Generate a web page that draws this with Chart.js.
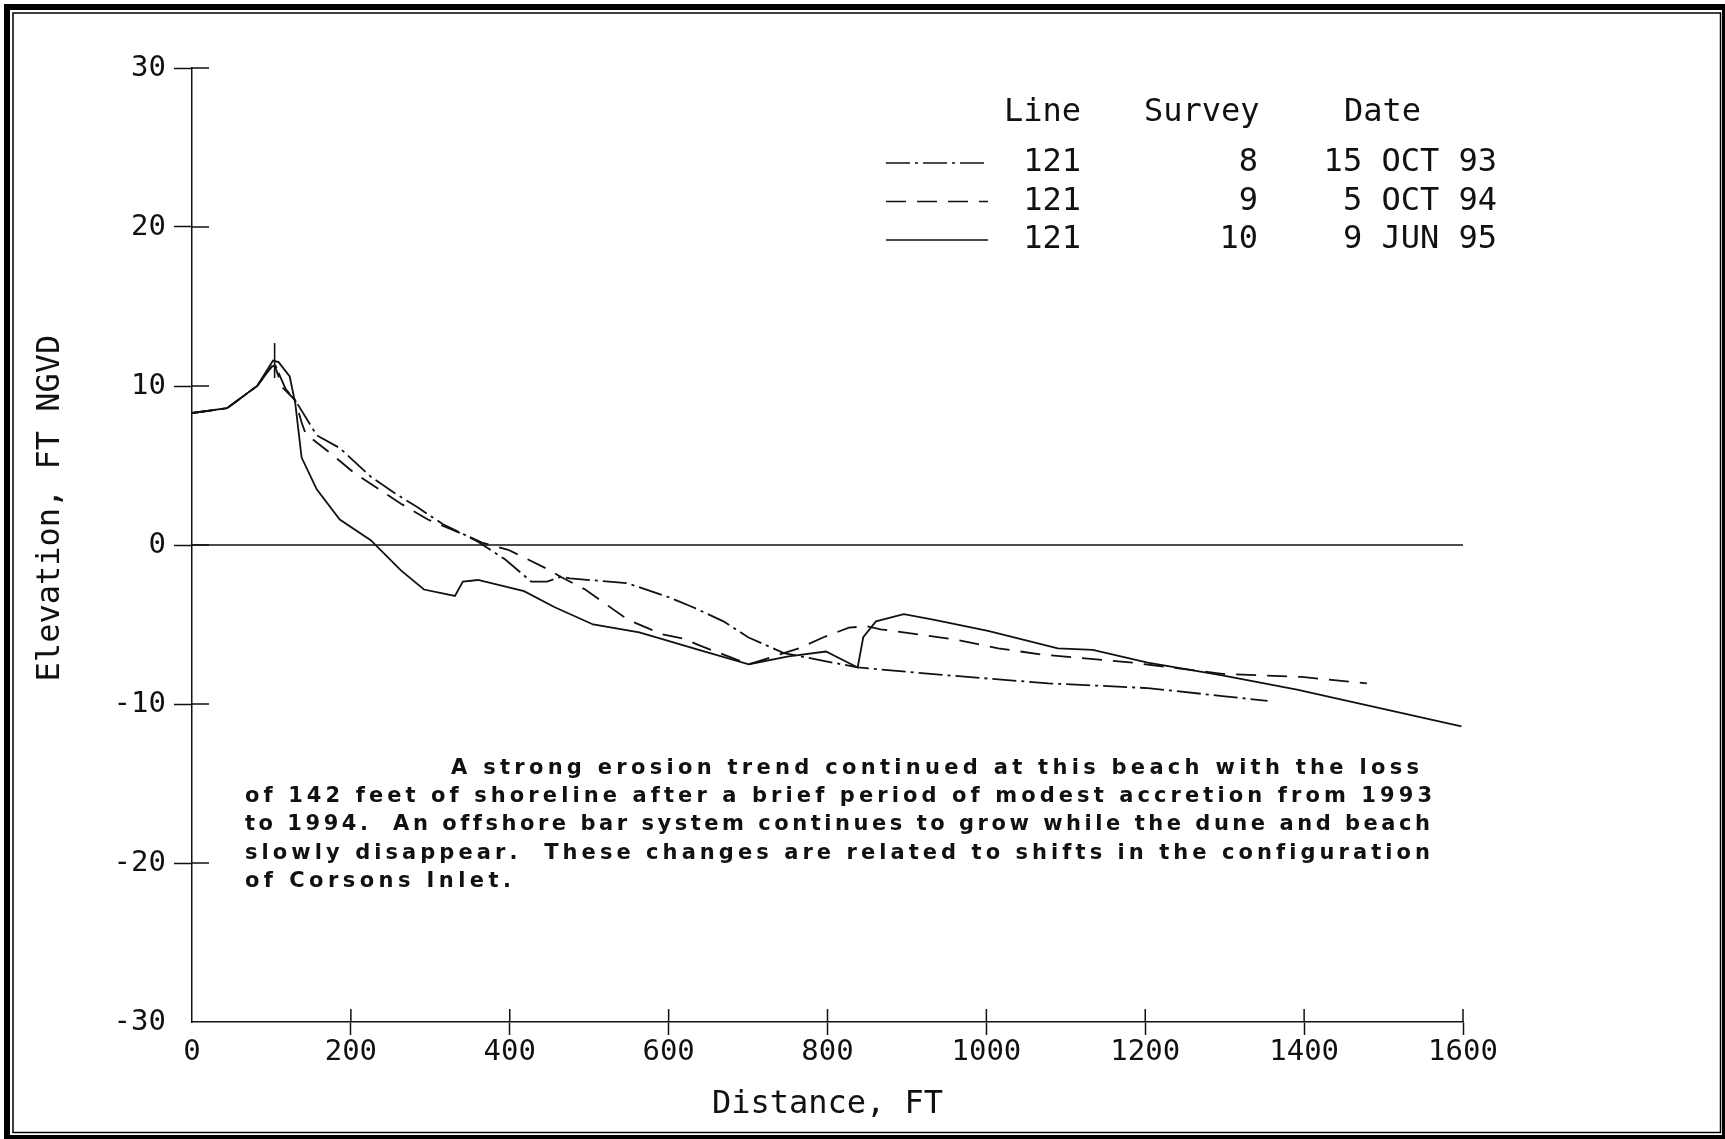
<!DOCTYPE html>
<html>
<head>
<meta charset="utf-8">
<script src="https://cdn.jsdelivr.net/npm/chart.js@4.4.0/dist/chart.umd.min.js"></script>
<style>
html, body { margin: 0; padding: 0; background: #ffffff; }
#wrap { width: 1725px; height: 1139px; position: relative; }
canvas { display: block; }
</style>
</head>
<body>
<div id="wrap"><canvas id="c" width="1725" height="1139"></canvas></div>
<script>
// ---- Data (distance in FT, elevation in FT NGVD) ----
const dist93 = [0, 44, 82, 100, 104, 118, 130, 157, 186, 225, 254, 283, 316, 345, 360, 394, 427, 447, 464, 476, 548, 601, 630, 669, 700, 745, 838, 952, 1078, 1203, 1297, 1354];
const elev93 = [8.3, 8.6, 10.0, 11.2, 11.4, 9.8, 9.1, 6.9, 6.1, 4.3, 3.3, 2.4, 1.3, 0.6, 0.2, -0.9, -2.3, -2.3, -2.0, -2.1, -2.4, -3.3, -3.9, -4.8, -5.8, -6.8, -7.7, -8.2, -8.7, -9.0, -9.5, -9.8];

const dist94 = [0, 44, 82, 100, 104, 114, 130, 138, 143, 176, 205, 263, 297, 350, 365, 398, 447, 464, 495, 543, 558, 591, 620, 638, 701, 764, 795, 827, 849, 867, 961, 1015, 1071, 1184, 1297, 1397, 1479];
const elev94 = [8.3, 8.6, 10.0, 11.2, 11.3, 9.9, 9.1, 7.7, 7.0, 5.7, 4.5, 2.6, 1.6, 0.5, 0.15, -0.3, -1.5, -2.0, -2.8, -4.5, -4.9, -5.6, -5.9, -6.3, -7.5, -6.5, -5.8, -5.2, -5.1, -5.3, -5.95, -6.5, -6.9, -7.4, -8.1, -8.3, -8.7];

const dist95 = [0, 44, 82, 102, 109, 123, 130, 138, 157, 186, 225, 263, 292, 331, 341, 360, 418, 456, 505, 563, 591, 638, 701, 751, 798, 838, 845, 861, 896, 933, 1002, 1090, 1134, 1203, 1297, 1391, 1598];
const elev95 = [8.3, 8.6, 10.0, 11.6, 11.5, 10.6, 8.9, 5.5, 3.5, 1.6, 0.3, -1.6, -2.8, -3.2, -2.3, -2.2, -2.9, -3.9, -5.0, -5.5, -5.9, -6.6, -7.5, -7.0, -6.7, -7.7, -5.8, -4.8, -4.35, -4.7, -5.4, -6.5, -6.6, -7.4, -8.2, -9.1, -11.4];

const crestMarkX = [104, 104];
const crestMarkY = [10.5, 12.7];

const zeroLineX = [0, 1600];
const zeroLineY = [0, 0];

const xTicks = [0, 200, 400, 600, 800, 1000, 1200, 1400, 1600];
const yTicks = [-30, -20, -10, 0, 10, 20, 30];

const legendHeader = ['Line', 'Survey', 'Date'];
const legendLines = ['121', '121', '121'];
const legendSurveys = ['8', '9', '10'];
const legendDates = ['15 OCT 93', '5 OCT 94', '9 JUN 95'];

const noteLines = [
  'A strong erosion trend continued at this beach with the loss',
  'of 142 feet of shoreline after a brief period of modest accretion from 1993',
  'to 1994.  An offshore bar system continues to grow while the dune and beach',
  'slowly disappear.  These changes are related to shifts in the configuration',
  'of Corsons Inlet.'
];

// ---- helpers ----
const toPts = (xs, ys) => xs.map((x, i) => ({ x: x, y: ys[i] }));
const INK = '#111111';
const MONO = 'DejaVu Sans Mono';
const DASH93 = [24, 5, 3, 5];
const DASH94 = [20, 11];

function drawSpaced(ctx, text, left, right, y) {
  const chars = Array.from(text);
  let natural = 0;
  const widths = chars.map(c => { const w = ctx.measureText(c).width; natural += w; return w; });
  const extra = chars.length > 1 ? ((right - left) - natural) / (chars.length - 1) : 0;
  let x = left;
  ctx.textAlign = 'left';
  chars.forEach((c, i) => { ctx.fillText(c, x, y); x += widths[i] + extra; });
}

const decor = {
  id: 'decor',
  afterDraw(chart) {
    const ctx = chart.ctx;
    const xs = chart.scales.x, ys = chart.scales.y;
    const area = chart.chartArea;
    ctx.save();

    // inner halves of the tick marks
    ctx.strokeStyle = INK; ctx.lineWidth = 1.5; ctx.setLineDash([]);
    ctx.beginPath();
    yTicks.forEach(v => {
      if (v === -30) return;
      const py = ys.getPixelForValue(v);
      ctx.moveTo(area.left, py); ctx.lineTo(area.left + 17, py);
    });
    xTicks.forEach(v => {
      if (v === 0) return;
      const px = xs.getPixelForValue(v);
      ctx.moveTo(px, area.bottom); ctx.lineTo(px, area.bottom - 13);
    });
    ctx.stroke();

    // y axis title
    ctx.fillStyle = INK;
    ctx.font = '32px "' + MONO + '"';
    ctx.save();
    ctx.translate(51, 508);
    ctx.rotate(-Math.PI / 2);
    ctx.textAlign = 'center'; ctx.textBaseline = 'middle';
    ctx.fillText('Elevation, FT NGVD', 0, 0);
    ctx.restore();

    // legend table
    ctx.font = '32px "' + MONO + '"';
    ctx.textBaseline = 'middle';
    ctx.textAlign = 'left';
    ctx.fillText(legendHeader[0], 1004, 113);
    ctx.fillText(legendHeader[1], 1144, 113);
    ctx.fillText(legendHeader[2], 1344, 113);
    const rowY = [163, 201.5, 240];
    const dashes = [DASH93, DASH94, []];
    rowY.forEach((ry, i) => {
      ctx.textAlign = 'right';
      ctx.fillText(legendLines[i], 1081, ry);
      ctx.fillText(legendSurveys[i], 1258, ry);
      ctx.fillText(legendDates[i], 1497, ry);
      ctx.beginPath();
      ctx.setLineDash(dashes[i]);
      ctx.lineWidth = 1.6;
      ctx.moveTo(886, ry); ctx.lineTo(988, ry);
      ctx.stroke();
    });
    ctx.setLineDash([]);

    // annotation paragraph
    ctx.font = 'bold 21px "DejaVu Sans"';
    ctx.textBaseline = 'alphabetic';
    const noteBox = [[451, 1419], [245, 1432], [245, 1430], [245, 1430], [245, 511]];
    noteLines.forEach((t, i) => {
      drawSpaced(ctx, t, noteBox[i][0], noteBox[i][1], 774 + i * 28.2);
    });

    // frame
    ctx.fillStyle = '#000';
    ctx.fillRect(4, 4, 1721, 6);        // top band
    ctx.fillRect(4, 4, 6, 1135);        // left band
    ctx.fillRect(1722, 4, 3, 1135);     // right band
    ctx.fillRect(4, 1135, 1721, 4);     // bottom band
    ctx.strokeStyle = '#000'; ctx.lineWidth = 1.5;
    ctx.strokeRect(13, 13, 1707.5, 1119.5);
    ctx.restore();
  }
};

const tickColorY = c => (c.tick && c.tick.value === -30) ? 'rgba(0,0,0,0)' : INK;
const tickColorX = c => (c.tick && c.tick.value === 0) ? 'rgba(0,0,0,0)' : INK;

new Chart(document.getElementById('c').getContext('2d'), {
  type: 'line',
  data: {
    datasets: [
      { label: 'zero', data: toPts(zeroLineX, zeroLineY), borderColor: INK, borderWidth: 1.5 },
      { label: 'crest', data: toPts(crestMarkX, crestMarkY), borderColor: INK, borderWidth: 1.6 },
      { label: '121 8 15 OCT 93', data: toPts(dist93, elev93), borderColor: INK, borderWidth: 1.8, borderDash: DASH93 },
      { label: '121 9 5 OCT 94', data: toPts(dist94, elev94), borderColor: INK, borderWidth: 1.8, borderDash: DASH94 },
      { label: '121 10 9 JUN 95', data: toPts(dist95, elev95), borderColor: INK, borderWidth: 1.8 }
    ]
  },
  options: {
    responsive: false,
    animation: false,
    devicePixelRatio: 1,
    layout: { padding: { left: 0, right: 262, top: 68, bottom: 0 } },
    elements: { point: { radius: 0 }, line: { tension: 0, fill: false } },
    plugins: { legend: { display: false }, tooltip: { enabled: false } },
    scales: {
      x: {
        type: 'linear', position: 'bottom', min: 0, max: 1600,
        afterBuildTicks: s => { s.ticks = xTicks.map(v => ({ value: v })); },
        ticks: { font: { family: MONO, size: 29 }, color: INK, padding: 0, maxRotation: 0, autoSkip: false, callback: v => String(v) },
        grid: { drawOnChartArea: false, drawTicks: true, tickLength: 13, tickWidth: 1.5, tickColor: tickColorX },
        border: { display: true, color: INK, width: 1.5 },
        title: { display: true, text: 'Distance, FT', color: INK, font: { family: MONO, size: 32 }, padding: { top: 0, bottom: 15 } },
        afterFit: s => { s.height = 117; }
      },
      y: {
        type: 'linear', position: 'left', min: -30, max: 30,
        afterBuildTicks: s => { s.ticks = yTicks.map(v => ({ value: v })); },
        ticks: { font: { family: MONO, size: 29 }, color: INK, padding: 8, autoSkip: false, callback: v => String(v) },
        grid: { drawOnChartArea: false, drawTicks: true, tickLength: 18, tickWidth: 1.5, tickColor: tickColorY },
        border: { display: true, color: INK, width: 1.5 },
        afterFit: s => { s.width = 192; }
      }
    }
  },
  plugins: [decor]
});
</script>
</body>
</html>
